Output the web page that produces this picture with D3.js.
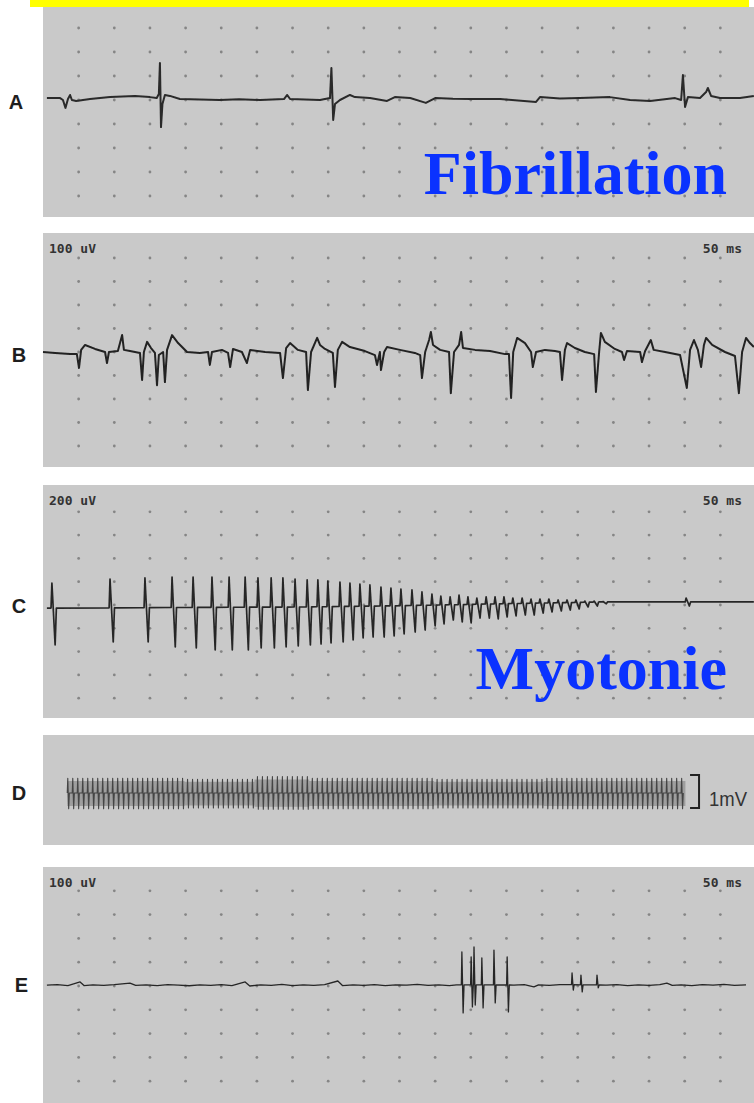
<!DOCTYPE html>
<html>
<head>
<meta charset="utf-8">
<script src="https://cdn.jsdelivr.net/npm/d3@7"></script>
<style>
  html, body { margin: 0; padding: 0; background: #fff; }
  svg { display: block; }
</style>
</head>
<body>
<svg id="chart" width="754" height="1103"></svg>
<script>
// ---- labels ----
const panelLabels = ["A", "B", "C", "D", "E"];
const gainLabels = ["", "100 uV", "200 uV", "", "100 uV"];
const sweepLabels = ["", "50 ms", "50 ms", "", "50 ms"];
const titleLabels = ["Fibrillation", "Myotonie"];
const calLabel = "1mV";

// grid: one dot every 10 ms, rows in divisions around the centre line
const gridCols = [10, 20, 30, 40, 50, 60, 70, 80, 90, 100, 110, 120, 130, 140, 150, 160, 170, 180, 190];
const gridRows = [-4, -3, -2, -1, 0, 1, 2, 3, 4];

// ---- traces: [time ms, amplitude uV] ----
// A - fibrillation potentials
const traceA = [[1.1,8],[4.8,8],[5.6,0],[6.3,-33],[7.0,4],[7.6,21],[8.1,0],[9.3,-4],[13.2,4],[18.8,12],[25.8,17],[30,12],[31.9,8],
  [32.5,25],[32.8,154],[33.1,-113],[33.5,-17],[34.2,21],[35.6,17],[38.4,4],[44,2],[49.6,0],[55,3],[60.9,0],[67.6,4],[68.5,21],[69.3,4],
  [77.7,0],[80.5,8],[80.9,133],[81.4,-83],[81.9,-17],[83.3,0],[86.1,21],[87.5,12],[91.7,8],[96.5,-4],[98.7,12],[103,8],[107.4,-12],
  [110,8],[115,5],[119.8,4],[128.2,4],[138.3,-8],[139.4,12],[145,6],[150.6,8],[159,12],[164.7,0],[170.3,-4],[177.3,8],[179,0],
  [179.5,104],[180.1,-29],[180.9,12],[184.3,8],[186,33],[186.5,50],[187.4,17],[189.9,8],[195.5,8],[199.4,17]];

// B - fibrillations / positive sharp waves
const traceB = [[0,0],[3.4,-4],[7.6,-9],[9.5,-9],[10.1,-68],[10.7,9],[11.8,30],[14.6,13],[17.4,0],[17.95,-47],[18.5,0],[21.0,4],
  [22.2,72],[22.7,9],[24.4,4],[27.2,-4],[27.8,-119],[28.3,0],[29.2,43],[30.3,17],[31.4,-4],[31.98,-141],[32.5,-13],[33.7,0],
  [34.2,-128],[34.8,9],[36.2,72],[37.9,38],[40.4,0],[44.0,-4],[46.3,0],[46.8,-55],[47.4,0],[50.2,9],[51.9,-4],[52.5,-64],[53.3,13],
  [55.8,0],[57.2,-47],[58.1,9],[62.3,0],[66.5,-4],[67.3,-111],[68.2,17],[69.3,38],[71.5,9],[73.8,0],[74.3,-162],[75.2,0],[76.9,60],
  [77.7,30],[79.1,13],[81.3,-4],[81.9,-149],[82.7,9],[83.9,43],[86.1,21],[90.3,4],[93.1,-13],[93.7,-55],[94.5,0],[94.8,-77],[95.7,0],
  [96.5,21],[100.1,9],[104.3,-4],[105.8,-13],[106.3,-111],[107.2,0],[108.3,51],[108.8,85],[109.4,30],[111.4,9],[113.9,0],[114.4,-175],
  [115.3,0],[116.7,30],[117.3,85],[117.8,17],[121.2,9],[125.4,4],[129.6,-9],[130.7,-9],[131.3,-196],[131.9,0],[133.0,60],[135.2,38],
  [136.9,0],[137.4,-64],[138.3,0],[140.8,9],[143.6,4],[145.0,0],[145.6,-119],[146.4,9],[147.0,38],[149.2,17],[152.0,0],[154.6,-9],
  [155.1,-170],[156.0,0],[156.5,81],[157.6,43],[160.4,13],[162.4,0],[163.0,-34],[163.8,4],[167.5,0],[168.0,-43],[168.9,4],[170.5,51],
  [171.3,9],[174.5,0],[178.7,-13],[180.6,-153],[181.5,9],[182.6,51],[183.7,9],[184.6,-64],[185.4,30],[186.0,60],[187.7,30],[191.3,0],
  [194.1,-17],[195.2,-175],[196.1,0],[197.2,60],[198.3,38],[199.4,21]];

// C - myotonic discharge: baseline drift + discharges [time, peak, trough]
const baseC = [[1.1,-26],[2.5,-26],[20,-24],[45,-20],[72,-17],[95,-8],[111,0],[130,12],[156,26],[199.4,26]];
const spikesC = [[2.5,189,-343],[18.8,223,-317],[28.6,232,-317],[36.2,240,-360],[42.1,240,-369],[47.4,240,-386],[52.2,240,-386],
  [56.7,240,-386],[60.3,232,-369],[64.0,232,-369],[67.3,232,-360],[70.7,223,-352],[74.1,215,-343],[77.1,215,-335],[79.9,206,-326],
  [83.3,197,-317],[86.1,189,-300],[88.9,180,-283],[91.7,172,-275],[94.8,154,-275],[97.6,146,-266],[100.4,137,-249],[103.5,129,-232],
  [106.3,112,-215],[109.1,94,-180],[111.6,77,-163],[114.2,69,-129],[116.7,86,-146],[119.2,69,-154],[121.7,60,-112],[124.3,69,-112],
  [126.8,69,-120],[129.3,69,-103],[131.8,60,-94],[134.4,60,-86],[136.9,51,-86],[139.4,51,-69],[141.9,51,-60],[144.5,43,-51],
  [147.0,43,-43],[149.5,43,-34],[152.0,34,-17],[154.6,34,-9],[157.1,30,10],[180.4,60,-9]];

// D - high frequency discharge (slow sweep): discharge times and amplitude per stretch
const baseD = -45;
const spikesD = [6.8,8.2,9.6,11.0,12.4,13.8,15.2,16.6,18.0,19.4,20.8,22.2,23.6,25.0,26.4,27.8,29.2,30.6,32.0,33.4,34.8,36.2,37.6,
  39.0,40.4,41.8,43.2,44.6,46.0,47.4,48.8,50.2,51.6,53.0,54.4,55.8,57.2,58.6,60.0,61.4,62.8,64.2,65.6,67.0,68.4,69.8,71.2,72.6,74.0,
  75.4,76.8,78.2,79.6,81.0,82.4,83.8,85.2,86.6,88.0,89.4,90.8,92.2,93.6,95.0,96.4,97.8,99.2,100.6,102.0,103.4,104.8,106.2,107.6,
  109.0,110.4,111.8,113.2,114.6,116.0,117.4,118.8,120.2,121.6,123.0,124.4,125.8,127.2,128.6,130.0,131.4,132.8,134.2,135.6,137.0,
  138.4,139.8,141.2,142.6,144.0,145.4,146.8,148.2,149.6,151.0,152.4,153.8,155.2,156.6,158.0,159.4,160.8,162.2,163.6,165.0,166.4,
  167.8,169.2,170.6,172.0,173.4,174.8,176.2,177.6,179.0];
const ampD = [[0,400,-520],[40,370,-500],[60,450,-540],[75,400,-520],[110,370,-500],[140,400,-520]];

// E - baseline with a short grouped discharge
const baseE = [[1.1,4],[4,6],[7,2],[10.4,17],[11.5,2],[14,5],[17,3],[20,6],[24.4,12],[26,3],[29,5],[32,2],[35,6],[38,4],[41,1],
  [44,5],[47,3],[50,6],[53,2],[56.7,17],[58,0],[61,5],[64,3],[67,7],[70,2],[73,5],[76,3],[79,6],[82.7,21],[84,2],[87,5],[90,3],
  [93,6],[96,2],[99,5],[102,4],[105,7],[108,3],[111,5],[114,2],[116,5],[132,4],[135,6],[137.7,-4],[139,5],[142,3],[145,6],[158,4],
  [161,6],[164,2],[167,5],[170,3],[173,6],[175,12],[176.5,3],[179,5],[182,2],[185,6],[188,4],[191,7],[194,3],[197.2,5]];
const spikesE = [[117.5,143,-113],[120.1,122,-88],[120.9,164,-80],[123.1,118,-92],[126.5,151,-71],[130.2,122,-109],
  [148.4,55,-17],[150.9,46,-25],[155.4,46,-8]];

// ---- layout ----
const width = 754, height = 1103;
const panels = [
  {top: 7,   bottom: 217,  mid: 100,   div: 24,   perDiv: 100,  grid: true,  lx: 16},
  {top: 233, bottom: 467,  mid: 352,   div: 23.5, perDiv: 100,  grid: true,  lx: 19},
  {top: 485, bottom: 718,  mid: 605,   div: 23.3, perDiv: 200,  grid: true,  lx: 19},
  {top: 735, bottom: 845,  mid: 791.5, div: 33,   perDiv: 1000, grid: false, lx: 19},
  {top: 867, bottom: 1103, mid: 986,   div: 23.8, perDiv: 100,  grid: true,  lx: 21.5}
];
const labelDy = [9, 10, 8, 8, 6];

const svg = d3.select("#chart");
const x = d3.scaleLinear().domain([0, 199.44]).range([43, width]);

panels.forEach(function(p) {
  p.y = d3.scaleLinear().domain([-p.perDiv, p.perDiv]).range([p.mid + p.div, p.mid - p.div]);
});

function interp(pts, t) {
  const i = d3.bisector(d => d[0]).left(pts, t);
  if (i <= 0) return pts[0][1];
  if (i >= pts.length) return pts[pts.length - 1][1];
  const a = pts[i - 1], b = pts[i];
  return a[1] + (b[1] - a[1]) * (t - a[0]) / (b[0] - a[0]);
}

// drop discharge shapes onto a baseline
function withSpikes(base, spikes, pre, w, post) {
  let pts = base.slice();
  spikes.forEach(function(s) {
    const b = interp(base, s[0]);
    pts = pts.filter(q => q[0] < s[0] - pre || q[0] > s[0] + w + post);
    pts.push([s[0] - pre, b], [s[0], s[1]], [s[0] + w, s[2]], [s[0] + w + post, b]);
  });
  return pts.sort((a, b) => a[0] - b[0]);
}

// top yellow strip
svg.append("rect").attr("x", 30).attr("y", 0).attr("width", 719).attr("height", 7).attr("fill", "#ffff00");

const defs = svg.append("defs");
defs.append("filter").attr("id", "soft").append("feGaussianBlur").attr("stdDeviation", 0.35);
defs.append("filter").attr("id", "softer").append("feGaussianBlur").attr("stdDeviation", 0.6);

// panels
panels.forEach(function(p, i) {
  const g = svg.append("g");
  g.append("rect")
    .attr("x", 43).attr("y", p.top)
    .attr("width", width - 43).attr("height", p.bottom - p.top)
    .attr("fill", "#c9c9c9");

  if (p.grid) {
    const rows = gridRows.map(r => p.y(r * p.perDiv)).filter(v => v > p.top + 12 && v < p.bottom - 12);
    rows.forEach(function(ry) {
      g.selectAll(null).data(gridCols).enter().append("circle")
        .attr("cx", d => x(d)).attr("cy", ry).attr("r", 1.4)
        .attr("fill", "#858585");
    });
  }

  g.append("text")
    .attr("x", p.lx).attr("y", p.mid + labelDy[i])
    .attr("text-anchor", "middle")
    .style("font-family", "'Liberation Sans', Arial, sans-serif")
    .style("font-weight", "bold").style("font-size", "20px")
    .attr("fill", "#1e1e1e")
    .text(panelLabels[i]);

  if (gainLabels[i]) {
    g.append("text").attr("x", 49).attr("y", p.top + 20)
      .style("font-family", "'DejaVu Sans Mono', monospace")
      .style("font-weight", "bold").style("font-size", "13px")
      .attr("fill", "#333").text(gainLabels[i]);
    g.append("text").attr("x", 742).attr("y", p.top + 20)
      .attr("text-anchor", "end")
      .style("font-family", "'DejaVu Sans Mono', monospace")
      .style("font-weight", "bold").style("font-size", "13px")
      .attr("fill", "#333").text(sweepLabels[i]);
  }
});

function drawTrace(pts, p, sw, color, filt) {
  const line = d3.line().x(d => x(d[0])).y(d => p.y(d[1]));
  svg.append("path")
    .attr("d", line(pts))
    .attr("fill", "none")
    .attr("stroke", color)
    .attr("stroke-width", sw)
    .attr("stroke-linejoin", "round")
    .attr("filter", "url(#" + (filt || "soft") + ")");
}

drawTrace(traceA, panels[0], 2, "#2a2a2a");
drawTrace(traceB, panels[1], 2, "#222");
drawTrace(withSpikes(baseC, spikesC, 0.25, 0.9, 0.35), panels[2], 1.7, "#262626");
drawTrace(withSpikes(baseE, spikesE, 0.15, 0.35, 0.25), panels[4], 1.3, "#262626");

// D: dense discharge band
const pD = panels[3];
const dPts = [];
const dEnv = [];
spikesD.forEach(function(t) {
  const a = ampD.filter(r => r[0] <= t).pop();
  dPts.push([t, baseD], [t + 0.15, a[1]], [t + 0.4, a[2]], [t + 0.6, baseD]);
  dEnv.push([t, a[1] * 0.8, a[2] * 0.85]);
});
dEnv.push([spikesD[spikesD.length - 1] + 1.2, dEnv[dEnv.length - 1][1], dEnv[dEnv.length - 1][2]]);
svg.append("path")
  .attr("d", d3.area().x(d => x(d[0])).y0(d => pD.y(d[2])).y1(d => pD.y(d[1])).curve(d3.curveStep)(dEnv))
  .attr("fill", "#8c8c8c").attr("opacity", 0.7)
  .attr("filter", "url(#softer)");
drawTrace(dPts, pD, 1.1, "#444", "softer");
svg.append("line")
  .attr("x1", x(spikesD[0])).attr("x2", x(spikesD[spikesD.length - 1] + 1.2))
  .attr("y1", pD.y(baseD)).attr("y2", pD.y(baseD))
  .attr("stroke", "#111").attr("stroke-width", 2.4)
  .attr("filter", "url(#soft)");

// 1 mV calibration bracket
const bx = x(181.5);
svg.append("path")
  .attr("d", "M" + bx + "," + pD.y(500) + "H" + (bx + 9) + "V" + pD.y(-500) + "H" + bx)
  .attr("fill", "none").attr("stroke", "#222").attr("stroke-width", 2);
svg.append("text")
  .attr("x", bx + 19).attr("y", pD.y(-440))
  .attr("textLength", 38).attr("lengthAdjust", "spacingAndGlyphs")
  .style("font-family", "'Liberation Sans', Arial, sans-serif")
  .style("font-size", "20px").attr("fill", "#333")
  .text(calLabel);

// titles
[[titleLabels[0], panels[0].top + 187], [titleLabels[1], panels[2].top + 204]].forEach(function(t) {
  svg.append("text")
    .attr("x", 727).attr("y", t[1])
    .attr("text-anchor", "end")
    .style("font-family", "'Liberation Serif', 'Times New Roman', serif")
    .style("font-weight", "bold").style("font-size", "62px")
    .attr("fill", "#0a32ff")
    .text(t[0]);
});
</script>
</body>
</html>
